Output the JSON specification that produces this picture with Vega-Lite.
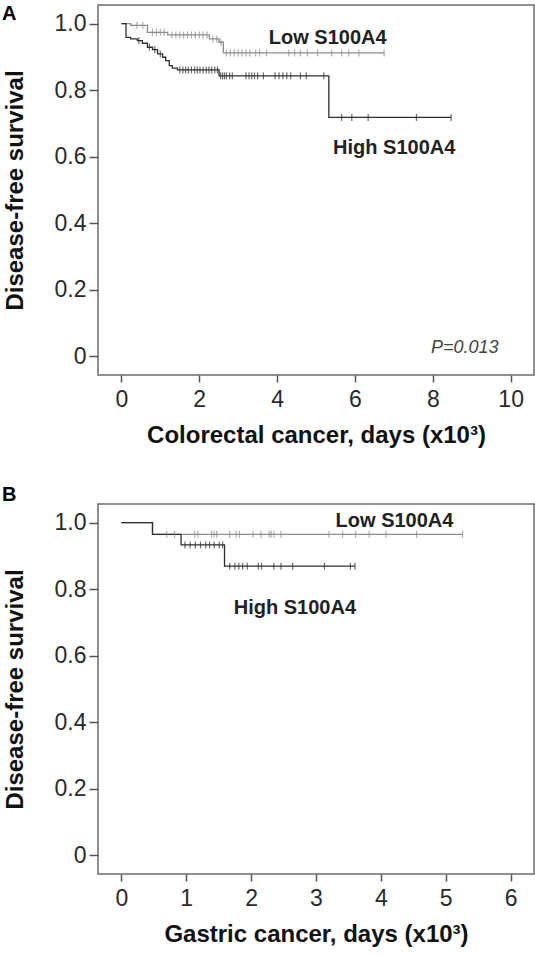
{
  "$schema": "https://vega.github.io/schema/vega-lite/v6.json",
  "background": "white",
  "padding": {"left": 1, "top": 2, "right": 0, "bottom": 0},
  "spacing": 129,
  "bounds": "flush",
  "config": {
    "view": {"stroke": "#6b6b6b", "strokeWidth": 1.5},
    "font": "Liberation Sans",
    "axis": {
      "domain": false, "grid": false, "tickColor": "#555", "tickWidth": 1.5,
      "labelFont": "Liberation Sans", "labelFontSize": 23, "labelColor": "#2a2a2a",
      "titleFont": "Liberation Sans", "titleFontSize": 24, "titleFontWeight": "bold", "titleColor": "#111"
    },
    "axisX": {"tickSize": 7, "labelPadding": 6, "titlePadding": 12, "format": "d"},
    "axisY": {"tickSize": 9, "labelPadding": 3, "titlePadding": 27}
  },
  "datasets": {
    "curvesA": [
      {"group": "Low", "t": 0, "s": 1.0},
      {"group": "Low", "t": 0.24, "s": 0.995},
      {"group": "Low", "t": 0.67, "s": 0.974},
      {"group": "Low", "t": 1.19, "s": 0.966},
      {"group": "Low", "t": 2.26, "s": 0.954},
      {"group": "Low", "t": 2.51, "s": 0.944},
      {"group": "Low", "t": 2.62, "s": 0.912},
      {"group": "Low", "t": 6.75, "s": 0.912},
      {"group": "High", "t": 0, "s": 1.0},
      {"group": "High", "t": 0.12, "s": 0.959},
      {"group": "High", "t": 0.24, "s": 0.954},
      {"group": "High", "t": 0.41, "s": 0.949},
      {"group": "High", "t": 0.54, "s": 0.941},
      {"group": "High", "t": 0.67, "s": 0.929},
      {"group": "High", "t": 0.8, "s": 0.922},
      {"group": "High", "t": 0.93, "s": 0.909},
      {"group": "High", "t": 1.06, "s": 0.899},
      {"group": "High", "t": 1.14, "s": 0.889},
      {"group": "High", "t": 1.23, "s": 0.874},
      {"group": "High", "t": 1.31, "s": 0.866},
      {"group": "High", "t": 1.44, "s": 0.861},
      {"group": "High", "t": 2.51, "s": 0.843},
      {"group": "High", "t": 5.33, "s": 0.718},
      {"group": "High", "t": 8.47, "s": 0.718}
    ],
    "censorA": [
      {"group": "Low", "t": 0.4, "s": 0.995},
      {"group": "Low", "t": 0.55, "s": 0.995},
      {"group": "Low", "t": 0.8, "s": 0.974},
      {"group": "Low", "t": 0.9, "s": 0.974},
      {"group": "Low", "t": 1.0, "s": 0.974},
      {"group": "Low", "t": 1.1, "s": 0.974},
      {"group": "Low", "t": 1.3, "s": 0.966},
      {"group": "Low", "t": 1.4, "s": 0.966},
      {"group": "Low", "t": 1.5, "s": 0.966},
      {"group": "Low", "t": 1.6, "s": 0.966},
      {"group": "Low", "t": 1.7, "s": 0.966},
      {"group": "Low", "t": 1.8, "s": 0.966},
      {"group": "Low", "t": 1.9, "s": 0.966},
      {"group": "Low", "t": 2.0, "s": 0.966},
      {"group": "Low", "t": 2.1, "s": 0.966},
      {"group": "Low", "t": 2.2, "s": 0.966},
      {"group": "Low", "t": 2.35, "s": 0.954},
      {"group": "Low", "t": 2.45, "s": 0.954},
      {"group": "Low", "t": 2.56, "s": 0.944},
      {"group": "Low", "t": 2.7, "s": 0.912},
      {"group": "Low", "t": 2.8, "s": 0.912},
      {"group": "Low", "t": 2.9, "s": 0.912},
      {"group": "Low", "t": 3.0, "s": 0.912},
      {"group": "Low", "t": 3.1, "s": 0.912},
      {"group": "Low", "t": 3.2, "s": 0.912},
      {"group": "Low", "t": 3.3, "s": 0.912},
      {"group": "Low", "t": 3.45, "s": 0.912},
      {"group": "Low", "t": 3.55, "s": 0.912},
      {"group": "Low", "t": 3.73, "s": 0.912},
      {"group": "Low", "t": 4.3, "s": 0.912},
      {"group": "Low", "t": 4.45, "s": 0.912},
      {"group": "Low", "t": 4.6, "s": 0.912},
      {"group": "Low", "t": 4.78, "s": 0.912},
      {"group": "Low", "t": 5.04, "s": 0.912},
      {"group": "Low", "t": 5.4, "s": 0.912},
      {"group": "Low", "t": 5.66, "s": 0.912},
      {"group": "Low", "t": 5.84, "s": 0.912},
      {"group": "Low", "t": 6.1, "s": 0.912},
      {"group": "Low", "t": 6.75, "s": 0.912},
      {"group": "High", "t": 0.45, "s": 0.949},
      {"group": "High", "t": 0.72, "s": 0.929},
      {"group": "High", "t": 0.86, "s": 0.922},
      {"group": "High", "t": 1.0, "s": 0.909},
      {"group": "High", "t": 1.5, "s": 0.861},
      {"group": "High", "t": 1.58, "s": 0.861},
      {"group": "High", "t": 1.65, "s": 0.861},
      {"group": "High", "t": 1.72, "s": 0.861},
      {"group": "High", "t": 1.8, "s": 0.861},
      {"group": "High", "t": 1.88, "s": 0.861},
      {"group": "High", "t": 1.95, "s": 0.861},
      {"group": "High", "t": 2.02, "s": 0.861},
      {"group": "High", "t": 2.1, "s": 0.861},
      {"group": "High", "t": 2.18, "s": 0.861},
      {"group": "High", "t": 2.25, "s": 0.861},
      {"group": "High", "t": 2.32, "s": 0.861},
      {"group": "High", "t": 2.4, "s": 0.861},
      {"group": "High", "t": 2.47, "s": 0.861},
      {"group": "High", "t": 2.55, "s": 0.843},
      {"group": "High", "t": 2.6, "s": 0.843},
      {"group": "High", "t": 2.65, "s": 0.843},
      {"group": "High", "t": 2.7, "s": 0.843},
      {"group": "High", "t": 2.78, "s": 0.843},
      {"group": "High", "t": 2.85, "s": 0.843},
      {"group": "High", "t": 3.2, "s": 0.843},
      {"group": "High", "t": 3.28, "s": 0.843},
      {"group": "High", "t": 3.35, "s": 0.843},
      {"group": "High", "t": 3.42, "s": 0.843},
      {"group": "High", "t": 3.5, "s": 0.843},
      {"group": "High", "t": 3.65, "s": 0.843},
      {"group": "High", "t": 3.95, "s": 0.843},
      {"group": "High", "t": 4.05, "s": 0.843},
      {"group": "High", "t": 4.15, "s": 0.843},
      {"group": "High", "t": 4.25, "s": 0.843},
      {"group": "High", "t": 4.35, "s": 0.843},
      {"group": "High", "t": 4.6, "s": 0.843},
      {"group": "High", "t": 4.75, "s": 0.843},
      {"group": "High", "t": 5.2, "s": 0.843},
      {"group": "High", "t": 5.66, "s": 0.718},
      {"group": "High", "t": 5.92, "s": 0.718},
      {"group": "High", "t": 6.34, "s": 0.718},
      {"group": "High", "t": 7.58, "s": 0.718},
      {"group": "High", "t": 8.47, "s": 0.718}
    ],
    "curvesB": [
      {"group": "Low", "t": 0, "s": 1.0},
      {"group": "Low", "t": 0.48, "s": 0.965},
      {"group": "Low", "t": 5.26, "s": 0.965},
      {"group": "High", "t": 0, "s": 1.0},
      {"group": "High", "t": 0.48, "s": 0.965},
      {"group": "High", "t": 0.92, "s": 0.933},
      {"group": "High", "t": 1.59, "s": 0.869},
      {"group": "High", "t": 3.6, "s": 0.869}
    ],
    "censorB": [
      {"group": "Low", "t": 0.7, "s": 0.965},
      {"group": "Low", "t": 0.82, "s": 0.965},
      {"group": "Low", "t": 1.13, "s": 0.965},
      {"group": "Low", "t": 1.18, "s": 0.965},
      {"group": "Low", "t": 1.39, "s": 0.965},
      {"group": "Low", "t": 1.43, "s": 0.965},
      {"group": "Low", "t": 1.47, "s": 0.965},
      {"group": "Low", "t": 1.67, "s": 0.965},
      {"group": "Low", "t": 1.77, "s": 0.965},
      {"group": "Low", "t": 1.82, "s": 0.965},
      {"group": "Low", "t": 2.03, "s": 0.965},
      {"group": "Low", "t": 2.15, "s": 0.965},
      {"group": "Low", "t": 2.28, "s": 0.965},
      {"group": "Low", "t": 2.31, "s": 0.965},
      {"group": "Low", "t": 2.35, "s": 0.965},
      {"group": "Low", "t": 2.46, "s": 0.965},
      {"group": "Low", "t": 3.2, "s": 0.965},
      {"group": "Low", "t": 3.41, "s": 0.965},
      {"group": "Low", "t": 3.61, "s": 0.965},
      {"group": "Low", "t": 3.82, "s": 0.965},
      {"group": "Low", "t": 4.08, "s": 0.965},
      {"group": "Low", "t": 4.55, "s": 0.965},
      {"group": "Low", "t": 5.26, "s": 0.965},
      {"group": "High", "t": 0.98, "s": 0.933},
      {"group": "High", "t": 1.06, "s": 0.933},
      {"group": "High", "t": 1.14, "s": 0.933},
      {"group": "High", "t": 1.22, "s": 0.933},
      {"group": "High", "t": 1.3, "s": 0.933},
      {"group": "High", "t": 1.36, "s": 0.933},
      {"group": "High", "t": 1.43, "s": 0.933},
      {"group": "High", "t": 1.51, "s": 0.933},
      {"group": "High", "t": 1.56, "s": 0.933},
      {"group": "High", "t": 1.67, "s": 0.869},
      {"group": "High", "t": 1.75, "s": 0.869},
      {"group": "High", "t": 1.81, "s": 0.869},
      {"group": "High", "t": 1.87, "s": 0.869},
      {"group": "High", "t": 1.94, "s": 0.869},
      {"group": "High", "t": 2.11, "s": 0.869},
      {"group": "High", "t": 2.16, "s": 0.869},
      {"group": "High", "t": 2.35, "s": 0.869},
      {"group": "High", "t": 2.46, "s": 0.869},
      {"group": "High", "t": 2.64, "s": 0.869},
      {"group": "High", "t": 3.13, "s": 0.869},
      {"group": "High", "t": 3.53, "s": 0.869},
      {"group": "High", "t": 3.6, "s": 0.869}
    ]
  },
  "vconcat": [
    {
      "width": 436,
      "height": 370,
      "layer": [
        {"data": {"name": "curvesA"}, "mark": {"type": "line", "interpolate": "step-after", "strokeWidth": 1.3},
          "encoding": {
            "x": {"field": "t", "type": "quantitative",
              "scale": {"domain": [-0.6, 10.6], "nice": false, "zero": false},
              "axis": {"values": [0, 2, 4, 6, 8, 10], "title": "Colorectal cancer, days (x10³)"}},
            "y": {"field": "s", "type": "quantitative",
              "scale": {"domain": [-0.056, 1.056], "nice": false, "zero": false},
              "axis": {"values": [0, 0.2, 0.4, 0.6, 0.8, 1.0], "labelExpr": "datum.value == 0 ? '0' : format(datum.value, '.1f')", "title": "Disease-free survival"}},
            "color": {"field": "group", "type": "nominal",
              "scale": {"domain": ["Low", "High"], "range": ["#8c8c8c", "#2e2e2e"]}, "legend": null}
          }},
        {"data": {"name": "censorA"}, "mark": {"type": "tick", "orient": "vertical", "size": 7, "thickness": 1.2},
          "encoding": {
            "x": {"field": "t", "type": "quantitative"},
            "y": {"field": "s", "type": "quantitative"},
            "color": {"field": "group", "type": "nominal", "legend": null}
          }},
        {"data": {"values": [{"label": "Low S100A4"}]}, "mark": {"type": "text", "fontSize": 20, "fontWeight": "bold", "align": "center", "baseline": "alphabetic", "color": "#222"},
          "encoding": {"x": {"datum": 5.3, "type": "quantitative"}, "y": {"datum": 0.94, "type": "quantitative"}, "text": {"field": "label"}}},
        {"data": {"values": [{"label": "High S100A4"}]}, "mark": {"type": "text", "fontSize": 20, "fontWeight": "bold", "align": "center", "baseline": "alphabetic", "color": "#222"},
          "encoding": {"x": {"datum": 7.01, "type": "quantitative"}, "y": {"datum": 0.609, "type": "quantitative"}, "text": {"field": "label"}}},
        {"data": {"values": [{"label": "P=0.013"}]}, "mark": {"type": "text", "fontSize": 18, "fontStyle": "italic", "align": "center", "baseline": "middle", "color": "#444"},
          "encoding": {"x": {"datum": 8.82, "type": "quantitative"}, "y": {"datum": 0.024, "type": "quantitative"}, "text": {"field": "label"}}},
        {"data": {"values": [{"label": "A"}]}, "mark": {"type": "text", "fontSize": 20, "fontWeight": "bold", "align": "left", "baseline": "alphabetic", "color": "#000"},
          "encoding": {"x": {"datum": -3.066, "type": "quantitative"}, "y": {"datum": 1.012, "type": "quantitative"}, "text": {"field": "label"}}}
      ]
    },
    {
      "width": 436,
      "height": 370,
      "layer": [
        {"data": {"name": "curvesB"}, "mark": {"type": "line", "interpolate": "step-after", "strokeWidth": 1.3},
          "encoding": {
            "x": {"field": "t", "type": "quantitative",
              "scale": {"domain": [-0.36, 6.36], "nice": false, "zero": false},
              "axis": {"values": [0, 1, 2, 3, 4, 5, 6], "title": "Gastric cancer, days (x10³)"}},
            "y": {"field": "s", "type": "quantitative",
              "scale": {"domain": [-0.056, 1.056], "nice": false, "zero": false},
              "axis": {"values": [0, 0.2, 0.4, 0.6, 0.8, 1.0], "labelExpr": "datum.value == 0 ? '0' : format(datum.value, '.1f')", "title": "Disease-free survival"}},
            "color": {"field": "group", "type": "nominal",
              "scale": {"domain": ["Low", "High"], "range": ["#8c8c8c", "#2e2e2e"]}, "legend": null}
          }},
        {"data": {"name": "censorB"}, "mark": {"type": "tick", "orient": "vertical", "size": 7, "thickness": 1.2},
          "encoding": {
            "x": {"field": "t", "type": "quantitative"},
            "y": {"field": "s", "type": "quantitative"},
            "color": {"field": "group", "type": "nominal", "legend": null}
          }},
        {"data": {"values": [{"label": "Low S100A4"}]}, "mark": {"type": "text", "fontSize": 20, "fontWeight": "bold", "align": "center", "baseline": "alphabetic", "color": "#222"},
          "encoding": {"x": {"datum": 4.21, "type": "quantitative"}, "y": {"datum": 0.987, "type": "quantitative"}, "text": {"field": "label"}}},
        {"data": {"values": [{"label": "High S100A4"}]}, "mark": {"type": "text", "fontSize": 20, "fontWeight": "bold", "align": "center", "baseline": "alphabetic", "color": "#222"},
          "encoding": {"x": {"datum": 2.675, "type": "quantitative"}, "y": {"datum": 0.724, "type": "quantitative"}, "text": {"field": "label"}}},
        {"data": {"values": [{"label": "B"}]}, "mark": {"type": "text", "fontSize": 20, "fontWeight": "bold", "align": "left", "baseline": "alphabetic", "color": "#000"},
          "encoding": {"x": {"datum": -1.84, "type": "quantitative"}, "y": {"datum": 1.0665, "type": "quantitative"}, "text": {"field": "label"}}}
      ]
    }
  ]
}
